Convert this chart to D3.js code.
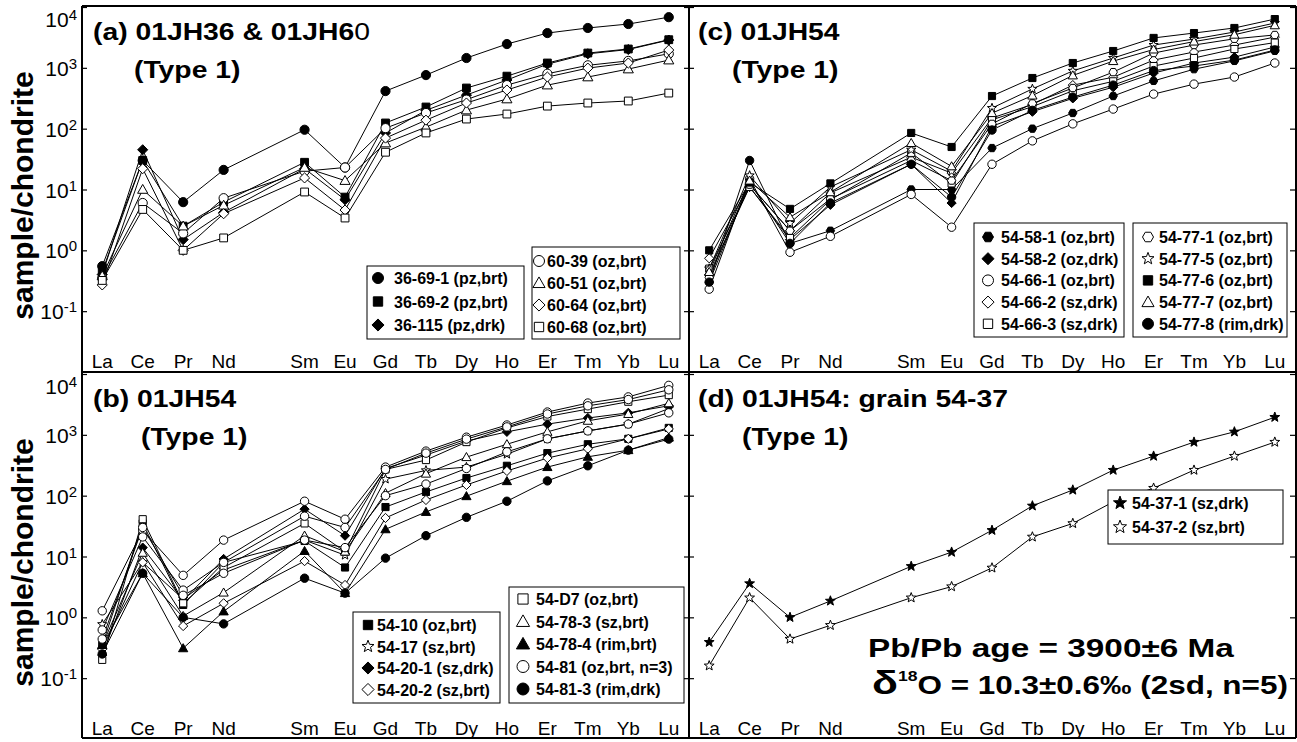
<!DOCTYPE html>
<html>
<head>
<meta charset="utf-8">
<script src="https://cdn.jsdelivr.net/npm/d3@7"></script>
<style>
  html, body { margin: 0; padding: 0; background: #fff; }
  svg { display: block; font-family: "Liberation Sans", Arial, sans-serif; }
</style>
</head>
<body>
<svg id="chart" width="1297" height="742"></svg>
<script>
// Chondrite-normalised REE patterns of zircon grains
const axisElements = ["La","Ce","Pr","Nd","Pm","Sm","Eu","Gd","Tb","Dy","Ho","Er","Tm","Yb","Lu"];
const reeElements  = ["La","Ce","Pr","Nd","Sm","Eu","Gd","Tb","Dy","Ho","Er","Tm","Yb","Lu"];
const yTickExponents = [-1, 0, 1, 2, 3, 4];
const yAxisLabel = "sample/chondrite";

// (a) 01JH36 & 01JH60
const panelANames  = ["36-69-1 (pz,brt)","36-69-2 (pz,brt)","36-115 (pz,drk)","60-39 (oz,brt)","60-51 (oz,brt)","60-64 (oz,brt)","60-68 (oz,brt)"];
const panelAShapes = ["circleF","squareF","diamondF","circleO","triangleO","diamondO","squareO"];
const panelAValues = [
  [0.55, 30, 6.2, 21, 96, 23, 415, 760, 1450, 2460, 3730, 4520, 5250, 6800],
  [0.45, 30, 2.5, 6.2, 28, 7.5, 124, 227, 466, 730, 1200, 1750, 2040, 2900],
  [0.40, 45, 1.5, 4.2, 22, 6.8, 85, 200, 357, 630, 1150, 1700, 2000, 2860],
  [0.35, 6.0, 1.9, 7.2, 20, 23, 102, 181, 300, 520, 800, 1100, 1300, 1700],
  [0.38, 10, 2.5, 5.5, 23, 14, 58, 106, 202, 307, 520, 706, 955, 1340],
  [0.27, 22, 1.0, 4.0, 15.5, 4.6, 70, 138, 264, 432, 706, 990, 1200, 1960],
  [0.32, 4.7, 1.0, 1.6, 9.1, 3.4, 41, 85, 144, 174, 235, 264, 285, 385]
];

// (b) 01JH54
const panelBNames  = ["54-10 (oz,brt)","54-17 (sz,brt)","54-20-1 (sz,drk)","54-20-2 (sz,brt)","54-D7 (oz,brt)","54-78-3 (sz,brt)","54-78-4 (rim,brt)","54-81 (oz,brt, n=3)","54-81 (oz,brt, n=3)","54-81 (oz,brt, n=3)","54-81-3 (rim,drk)"];
const panelBShapes = ["squareF","starO","diamondF","diamondO","squareO","triangleO","triangleF","circleO","circleO","circleO","circleF"];
const panelBValues = [
  [0.35, 35, 1.6, 8.0, 18, 6.6, 65, 115, 195, 310, 500, 700, 860, 1300],
  [0.77, 8.0, 2.0, 6.0, 18.6, 10.5, 187, 260, 295, 480, 860, 1160, 1500, 2700],
  [0.24, 14, 1.9, 9.1, 60, 22, 280, 465, 790, 1120, 1500, 1890, 2300, 3000],
  [0.30, 8.0, 0.72, 1.7, 8.4, 3.4, 43, 85, 150, 255, 415, 590, 860, 1250],
  [0.20, 41, 1.7, 6.6, 35, 12, 270, 385, 760, 1300, 2000, 2650, 3500, 4500],
  [0.35, 11.5, 1.05, 2.55, 22, 12, 110, 230, 430, 700, 1120, 1700, 2200, 3300],
  [0.35, 5.3, 0.31, 1.25, 12.3, 2.5, 28, 54, 98, 173, 295, 435, 560, 900],
  [1.28, 27, 4.9, 18.6, 81, 41, 295, 540, 915, 1450, 2370, 3330, 4200, 6500],
  [0.62, 21, 2.8, 8.0, 46, 30, 270, 500, 850, 1350, 2200, 3000, 3800, 5500],
  [0.44, 30, 2.3, 5.3, 18.6, 14, 100, 155, 280, 525, 860, 1160, 1500, 2300],
  [0.25, 5.3, 1.0, 0.78, 4.4, 2.5, 9.4, 22, 44, 81, 175, 310, 560, 850]
];

// (c) 01JH54
const panelCNames  = ["54-58-1 (oz,brt)","54-58-2 (oz,drk)","54-66-1 (oz,brt)","54-66-2 (sz,drk)","54-66-3 (sz,drk)","54-77-1 (oz,brt)","54-77-5 (oz,brt)","54-77-6 (oz,brt)","54-77-7 (oz,brt)","54-77-8 (rim,drk)"];
const panelCShapes = ["hexagonF","diamondF","circleO","diamondO","squareO","hexagonO","starO","squareF","triangleO","circleF"];
const panelCValues = [
  [0.30, 13, 1.3, 2.1, 10, 10, 48, 100, 181, 344, 610, 950, 1300, 1900],
  [0.40, 11, 1.5, 5.6, 26, 6.0, 110, 190, 315, 480, 820, 1200, 1500, 2200],
  [0.23, 15, 0.93, 1.7, 8.3, 2.4, 26, 63, 120, 210, 370, 540, 706, 1200],
  [0.74, 12, 2.1, 8.8, 34, 18.6, 150, 250, 520, 700, 1340, 1820, 2370, 3200],
  [0.50, 11, 1.6, 6.8, 40, 12.6, 140, 230, 420, 600, 1070, 1450, 2040, 2600],
  [0.36, 12, 2.1, 7.0, 30, 14, 120, 260, 466, 850, 1750, 2370, 3000, 3470],
  [0.50, 17, 2.8, 11, 45, 20, 218, 450, 890, 1450, 2370, 2970, 3880, 5450],
  [1.00, 13, 4.8, 12.6, 85, 50, 344, 680, 1200, 1890, 3100, 3730, 4520, 6330],
  [0.44, 14, 3.5, 9.0, 58, 24, 180, 350, 750, 1290, 2000, 2700, 3500, 5000],
  [0.30, 30, 1.3, 6.0, 26, 7.5, 95, 200, 330, 520, 900, 1070, 1340, 1960]
];

// (d) 01JH54: grain 54-37
const panelDNames  = ["54-37-1 (sz,drk)","54-37-2 (sz,brt)"];
const panelDShapes = ["starF","starO"];
const panelDValues = [
  [0.39, 3.6, 1.0, 1.86, 6.9, 11.8, 27, 68, 124, 263, 447, 760, 1120, 1950],
  [0.16, 2.1, 0.44, 0.74, 2.1, 3.2, 6.5, 21, 35, 79, 133, 263, 447, 760]
];

const svg = d3.select("#chart");

// marker path for a shape of radius r, centred on 0,0
function shapePath(kind, r) {
  const p = d3.path();
  if (kind.startsWith("circle")) {
    p.moveTo(r, 0); p.arc(0, 0, r, 0, 2 * Math.PI); p.closePath();
  } else if (kind.startsWith("square")) {
    const s = r * 0.85; p.rect(-s, -s, 2 * s, 2 * s);
  } else if (kind.startsWith("diamond")) {
    const s = r * 1.1;
    p.moveTo(0, -s); p.lineTo(s, 0); p.lineTo(0, s); p.lineTo(-s, 0); p.closePath();
  } else if (kind.startsWith("triangle")) {
    const s = r * 1.1;
    p.moveTo(0, -s); p.lineTo(s, s * 0.75); p.lineTo(-s, s * 0.75); p.closePath();
  } else if (kind.startsWith("star")) {
    const ro = r * 1.15, ri = ro * 0.42;
    for (let i = 0; i < 10; i++) {
      const a = -Math.PI / 2 + i * Math.PI / 5, rr = i % 2 ? ri : ro;
      const px = rr * Math.cos(a), py = rr * Math.sin(a);
      i ? p.lineTo(px, py) : p.moveTo(px, py);
    }
    p.closePath();
  } else if (kind.startsWith("hexagon")) {
    for (let i = 0; i < 6; i++) {
      const a = i * Math.PI / 3, px = r * Math.cos(a), py = r * Math.sin(a);
      i ? p.lineTo(px, py) : p.moveTo(px, py);
    }
    p.closePath();
  }
  return p.toString();
}
const isFilled = k => k.endsWith("F");

function drawMarker(g, kind, x, y, r) {
  g.append("path")
    .attr("d", shapePath(kind, r))
    .attr("transform", `translate(${x},${y})`)
    .attr("fill", isFilled(kind) ? "#000" : "#fff")
    .attr("stroke", "#000")
    .attr("stroke-width", 1);
}

// widen a bold text horizontally so that it spans the given width
function fitWidth(textSel, x, y, width) {
  const w = textSel.node().getComputedTextLength();
  textSel.attr("transform", `translate(${x},${y}) scale(${width / w},1)`);
}

function drawPanel(cfg) {
  const x = d3.scalePoint().domain(axisElements).range([cfg.x0, cfg.x1]).padding(0.5);
  const y = d3.scaleLog().domain([0.01, 1e4]).range([cfg.yBot, cfg.yTop]);
  const g = svg.append("g");

  // decade ticks on both sides, pointing inward
  const leftAxis = d3.axisLeft(y).tickValues(yTickExponents.map(e => Math.pow(10, e))).tickSize(-5).tickFormat("");
  const rightAxis = d3.axisRight(y).tickValues(yTickExponents.map(e => Math.pow(10, e))).tickSize(-5).tickFormat("");
  g.append("g").attr("transform", `translate(${cfg.x0},0)`).call(leftAxis).call(a => a.select(".domain").remove());
  g.append("g").attr("transform", `translate(${cfg.x1},0)`).call(rightAxis).call(a => a.select(".domain").remove());
  g.selectAll(".tick line").attr("stroke", "#000").attr("stroke-width", 1.2);

  if (cfg.yLabels) {
    yTickExponents.forEach(e => {
      // the top label sits a little lower so that it stays inside the frame
      const base = e === 4 ? y(Math.pow(10, e)) + 20 : y(Math.pow(10, e)) + 8;
      const t = g.append("text")
        .attr("x", cfg.x0 - 5).attr("y", base)
        .attr("text-anchor", "end").attr("font-size", 21);
      t.append("tspan").text("10");
      t.append("tspan").attr("dy", -7).attr("font-size", 15).text(String(e));
    });
    g.append("text")
      .attr("transform", `translate(${cfg.x0 - 49},${(cfg.yTop + cfg.yBot) / 2 + 6}) rotate(-90)`)
      .attr("text-anchor", "middle").attr("font-size", 30).attr("font-weight", "bold")
      .text(yAxisLabel);
  }

  // element names along the bottom, inside the frame
  g.selectAll("text.el").data(reeElements).join("text")
    .attr("class", "el")
    .attr("x", d => x(d)).attr("y", cfg.yBot - 4)
    .attr("text-anchor", "middle").attr("font-size", 19)
    .text(d => d);

  // patterns
  const line = d3.line().x((v, i) => x(reeElements[i])).y(v => y(v));
  cfg.values.forEach(vals => {
    g.append("path").attr("d", line(vals)).attr("fill", "none").attr("stroke", "#000").attr("stroke-width", 1);
  });
  cfg.values.forEach((vals, si) => {
    const kind = cfg.shapes[si];
    vals.forEach((v, i) => drawMarker(g, kind, x(reeElements[i]), y(v), cfg.r));
  });

  // title
  const title = g.append("g").attr("transform", `translate(${cfg.titleX},${cfg.yTop + 33}) scale(1.18,1)`);
  title.append("text").attr("font-size", 24).attr("font-weight", "bold")
    .call(t => cfg.title(t));
  g.append("text")
    .attr("transform", `translate(${cfg.titleX + cfg.typeDx},${cfg.yTop + 71}) scale(1.18,1)`)
    .attr("font-size", 24).attr("font-weight", "bold").text("(Type 1)");

  // legend boxes
  cfg.legends.forEach(lg => {
    const lgG = g.append("g");
    lgG.append("rect").attr("x", lg.x).attr("y", lg.y).attr("width", lg.w).attr("height", lg.h)
      .attr("fill", "#fff").attr("stroke", "#000").attr("stroke-width", 1);
    lg.rows.forEach((si, k) => {
      const cy = lg.y + lg.first + k * lg.step;
      drawMarker(lgG, cfg.shapes[si], lg.x + lg.mx, cy, lg.mr);
      lgG.append("text").attr("x", lg.x + lg.tx).attr("y", cy + 6)
        .attr("font-size", 16).attr("font-weight", "bold").text(cfg.names[si]);
    });
  });
  return { x, y, g };
}

drawPanel({
  x0: 82, x1: 689, yTop: 7, yBot: 372, yLabels: true, r: 4.6,
  values: panelAValues, shapes: panelAShapes, names: panelANames,
  titleX: 93, typeDx: 41,
  title: t => { t.append("tspan").text("(a) 01JH36 & 01JH6"); t.append("tspan").attr("font-weight", "normal").text("0"); },
  legends: [
    { x: 367, y: 266, w: 157, h: 73, first: 12, step: 23.5, mx: 11, mr: 5.5, tx: 27, rows: [0, 1, 2] },
    { x: 532, y: 247, w: 148, h: 92, first: 14, step: 22, mx: 7, mr: 5.5, tx: 15, rows: [3, 4, 5, 6] }
  ]
});

drawPanel({
  x0: 689, x1: 1295, yTop: 7, yBot: 372, yLabels: false, r: 4.2,
  values: panelCValues, shapes: panelCShapes, names: panelCNames,
  titleX: 698, typeDx: 34,
  title: t => t.text("(c) 01JH54"),
  legends: [
    { x: 974, y: 223, w: 150, h: 114, first: 14, step: 21.7, mx: 14, mr: 5.5, tx: 27, rows: [0, 1, 2, 3, 4] },
    { x: 1133, y: 223, w: 154, h: 114, first: 14, step: 21.7, mx: 15, mr: 5.5, tx: 26, rows: [5, 6, 7, 8, 9] }
  ]
});

drawPanel({
  x0: 82, x1: 689, yTop: 374, yBot: 739, yLabels: true, r: 4.2,
  values: panelBValues, shapes: panelBShapes, names: panelBNames,
  titleX: 93, typeDx: 48,
  title: t => t.text("(b) 01JH54"),
  legends: [
    { x: 353, y: 612, w: 147, h: 91, first: 13, step: 21.5, mx: 15, mr: 5.5, tx: 24, rows: [0, 1, 2, 3] },
    { x: 509, y: 587, w: 175, h: 116, first: 12, step: 22.5, mx: 14, mr: 6, tx: 27, rows: [4, 5, 6, 7, 10] }
  ]
});

const pd = drawPanel({
  x0: 689, x1: 1295, yTop: 374, yBot: 739, yLabels: false, r: 4.5,
  values: panelDValues, shapes: panelDShapes, names: panelDNames,
  titleX: 698, typeDx: 44,
  title: t => t.text("(d) 01JH54: grain 54-37"),
  legends: [
    { x: 1108, y: 490, w: 175, h: 54, first: 13, step: 24, mx: 12, mr: 6, tx: 24, rows: [0, 1] }
  ]
});

// age and oxygen isotope note for grain 54-37
const ageT = pd.g.append("text").attr("font-size", 25).attr("font-weight", "bold")
  .text("Pb/Pb age = 3900±6 Ma");
fitWidth(ageT, 868, 657, 366);
const dT = pd.g.append("text").attr("font-size", 25).attr("font-weight", "bold");
dT.append("tspan").attr("font-size", 34).text("δ");
dT.append("tspan").attr("dy", -13).attr("font-size", 14).text("18");
dT.append("tspan").attr("dy", 13).text("O = 10.3±0.6‰ (2sd, n=5)");
fitWidth(dT, 872, 694, 416);

// panel frames
const frame = svg.append("g").attr("stroke", "#000").attr("stroke-width", 2).attr("fill", "none");
[[82, 6, 1296, 6], [82, 372, 1296, 372], [82, 738, 1296, 738],
 [82, 6, 82, 738], [689, 6, 689, 738], [1296, 6, 1296, 738]].forEach(([a, b, c, d]) =>
  frame.append("line").attr("x1", a).attr("y1", b).attr("x2", c).attr("y2", d));
</script>
</body>
</html>
